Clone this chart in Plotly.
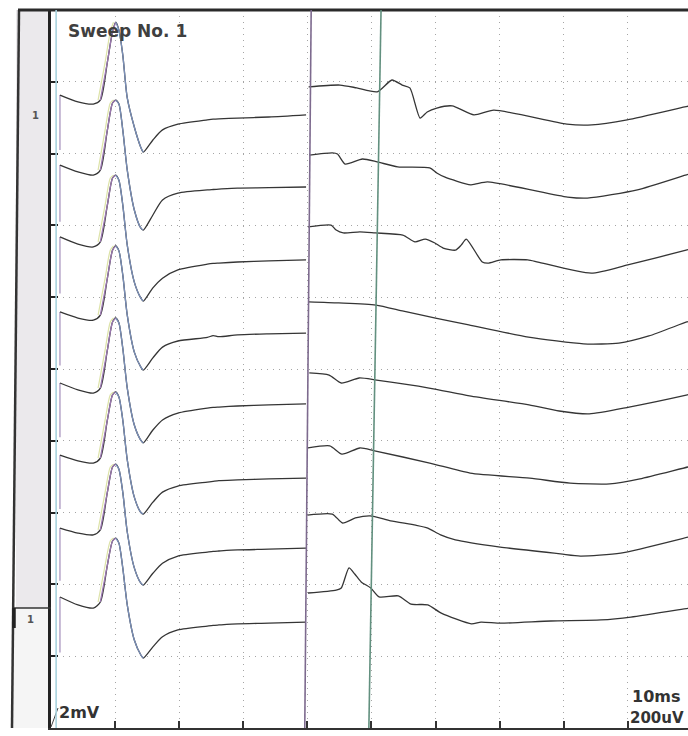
import plotly.graph_objects as go

# ---------------- data ----------------
# M-wave section (0-40 ms), 2 mV / division, values in mV relative to each sweep's grid line
t_m = [1.4, 4.2, 6.6, 7.7, 8.8, 9.6, 10.1, 10.6, 11.2, 11.9, 13.0, 14.0, 14.4,
       15.9, 17.4, 19.8, 24.4, 25.3, 26.2, 29.1, 34.0, 39.8]
m1 = [-0.37, -0.56, -0.62, -0.51, 0.55, 1.39, 1.66, 1.44, 0.75, -0.45, -1.26, -1.82, -1.96,
      -1.62, -1.34, -1.18, -1.06, -1.04, -1.03, -1.01, -0.98, -0.92]
m2 = [-0.32, -0.51, -0.60, -0.46, 0.66, 1.41, 1.49, 1.38, 0.66, -0.46, -1.57, -2.07, -2.13,
      -1.71, -1.29, -1.10, -1.01, -1.00, -0.99, -0.96, -0.95, -0.93]
m3 = [-0.32, -0.52, -0.60, -0.46, 0.57, 1.32, 1.40, 1.26, 0.57, -0.55, -1.58, -2.02, -2.11,
      -1.74, -1.47, -1.24, -1.08, -1.06, -1.05, -1.02, -0.99, -0.96]
m4 = [-0.41, -0.58, -0.64, -0.50, 0.53, 1.31, 1.43, 1.29, 0.62, -0.50, -1.53, -1.94, -2.03,
      -1.69, -1.39, -1.22, -1.12, -1.07, -1.10, -1.05, -1.02, -1.00]
m5 = [-0.39, -0.58, -0.67, -0.53, 0.53, 1.31, 1.42, 1.28, 0.58, -0.53, -1.56, -1.98, -2.06,
      -1.70, -1.42, -1.23, -1.09, -1.07, -1.06, -1.03, -1.00, -0.97]
m6 = [-0.40, -0.56, -0.62, -0.48, 0.58, 1.28, 1.36, 1.22, 0.58, -0.53, -1.57, -1.99, -2.04,
      -1.71, -1.43, -1.26, -1.15, -1.13, -1.11, -1.09, -1.06, -1.04]
m7 = [-0.43, -0.57, -0.62, -0.48, 0.57, 1.27, 1.35, 1.21, 0.57, -0.54, -1.54, -1.96, -2.02,
      -1.69, -1.41, -1.21, -1.10, -1.08, -1.07, -1.04, -1.02, -0.99]
m8 = [-0.35, -0.57, -0.66, -0.49, 0.54, 1.21, 1.29, 1.15, 0.46, -0.57, -1.55, -1.96, -2.05,
      -1.74, -1.46, -1.27, -1.16, -1.14, -1.13, -1.10, -1.08, -1.05]

# F-wave section (40-100 ms), 200 uV / division, values in uV relative to each sweep's grid line
f1_t = [40.2, 45.1, 47.7, 50.9, 53.2, 54.8, 56.0, 57.6, 58.7, 60.2, 62.6, 66.0, 69.1, 80.5, 84.4, 89.9, 98.9, 100.0]
f1_v = [-14, -9, -17, -28, 5, -9, -17, -101, -84, -73, -67, -92, -79, -118, -120, -106, -70, -66]
f2_t = [40.3, 43.9, 44.7, 45.9, 48.6, 50.9, 54.1, 59.1, 60.2, 61.4, 65.5, 68.1, 80.6, 83.7, 91.5, 99.0, 100.0]
f2_v = [-4, 2, -1, -29, -15, -23, -37, -40, -54, -65, -87, -79, -121, -124, -101, -60, -55]
f3_t = [40.1, 43.7, 44.5, 45.6, 48.2, 50.6, 54.9, 56.8, 58.4, 59.9, 61.2, 63.1, 64.0, 64.8, 67.3, 68.2,
        70.2, 74.4, 76.0, 84.3, 90.0, 99.1, 100.0]
f3_v = [-4, 1, -13, -21, -18, -21, -27, -46, -38, -49, -63, -69, -55, -38, -102, -105,
        -96, -96, -102, -133, -110, -69, -65]
f4_t = [40.2, 44.9, 50.7, 55.0, 60.0, 65.2, 74.5, 83.1, 88.6, 93.3, 99.2, 100.0]
f4_v = [-13, -16, -22, -39, -58, -77, -111, -130, -128, -108, -69, -65]
f5_t = [40.3, 43.4, 45.3, 48.1, 50.8, 59.0, 65.3, 74.6, 79.3, 84.0, 90.2, 99.3, 100.0]
f5_v = [-11, -17, -39, -25, -31, -53, -75, -100, -117, -125, -106, -72, -69]
f6_t = [40.1, 43.5, 45.4, 48.2, 50.5, 59.1, 65.4, 74.7, 81.0, 87.2, 91.9, 99.4, 100.0]
f6_v = [-20, -14, -37, -20, -28, -62, -90, -104, -118, -120, -106, -73, -71]
f7_t = [40.0, 43.9, 45.5, 47.5, 49.8, 53.0, 56.9, 58.8, 60.8, 63.1, 70.1, 79.5, 82.6, 88.9, 99.5, 100.0]
f7_v = [-7, -4, -29, -15, -9, -23, -35, -43, -62, -76, -96, -115, -121, -113, -68, -66]
f8_t = [40.1, 44.5, 45.3, 46.5, 47.4, 48.4, 49.9, 51.2, 54.2, 56.2, 58.8, 60.9, 65.6, 67.1, 70.2,
        78.0, 85.8, 90.5, 99.6, 100.0]
f8_v = [-24, -16, -10, 46, 29, 7, -10, -35, -32, -55, -57, -80, -110, -105, -108,
        -102, -99, -91, -66, -65]

m_vals = [m1, m2, m3, m4, m5, m6, m7, m8]
f_times = [f1_t, f2_t, f3_t, f4_t, f5_t, f6_t, f7_t, f8_t]
f_vals = [f1_v, f2_v, f3_v, f4_v, f5_v, f6_v, f7_v, f8_v]
baselines = [9, 8, 7, 6, 5, 4, 3, 2]      # grid line (division) of each sweep
m_scale = 2.0       # mV per division
f_scale = 200.0     # uV per division
artifact_mv = -1.9  # stimulus artifact depth, mV
cursor_top = [40.6, 51.5]
cursor_bot = [39.6, 49.6]
stim_t = 0.8

# ---------------- figure ----------------
W, H = 688, 736
PX0, PX1, PY0, PY1 = 51, 688, 10, 728


def px(x):
    return (x - PX0) / (PX1 - PX0)


def py(y):
    return (PY1 - y) / (PY1 - PY0)


fig = go.Figure()
trace_col = "#353535"

for k in range(8):
    b = baselines[k]
    ym = [b + v / m_scale for v in m_vals[k]]
    # stimulus artifact
    fig.add_trace(go.Scatter(x=[t_m[0], t_m[0]], y=[b + artifact_mv / m_scale, ym[0]], mode="lines",
                             line=dict(color="#a48fbb", width=1.2), hoverinfo="skip"))
    # M wave
    fig.add_trace(go.Scatter(x=t_m, y=ym, mode="lines",
                             line=dict(color=trace_col, width=1.3, shape="spline", smoothing=0.7),
                             hoverinfo="skip"))
    # coloured steep parts
    up = slice(3, 7)
    dn = slice(6, 13)
    fig.add_trace(go.Scatter(x=[t - 0.35 for t in t_m[up]], y=ym[up], mode="lines",
                             line=dict(color="#dde3a8", width=1.2, shape="spline", smoothing=0.7),
                             hoverinfo="skip"))
    fig.add_trace(go.Scatter(x=t_m[up], y=ym[up], mode="lines",
                             line=dict(color="#9b78b0", width=1.3, shape="spline", smoothing=0.7),
                             hoverinfo="skip"))
    fig.add_trace(go.Scatter(x=t_m[dn], y=ym[dn], mode="lines",
                             line=dict(color="#7a8fb8", width=1.3, shape="spline", smoothing=0.7),
                             hoverinfo="skip"))
    # F-wave section
    yf = [b + v / f_scale for v in f_vals[k]]
    fig.add_trace(go.Scatter(x=f_times[k], y=yf, mode="lines",
                             line=dict(color=trace_col, width=1.3, shape="spline", smoothing=0.6),
                             hoverinfo="skip"))

shapes = []
# left strips
shapes.append(dict(type="rect", xref="paper", yref="paper", x0=px(16), x1=px(PX0), y0=py(608), y1=py(10),
                   fillcolor="#ebe9ec", line=dict(width=0), layer="below"))
shapes.append(dict(type="rect", xref="paper", yref="paper", x0=px(12), x1=px(PX0), y0=py(728), y1=py(608),
                   fillcolor="#f5f5f5", line=dict(width=0), layer="below"))
shapes.append(dict(type="line", xref="paper", yref="paper", x0=px(19), x1=px(12), y0=py(10), y1=py(728),
                   line=dict(color="#333333", width=2.5)))
shapes.append(dict(type="line", xref="paper", yref="paper", x0=px(12), x1=px(PX0), y0=py(608), y1=py(608),
                   line=dict(color="#333333", width=1.5)))
shapes.append(dict(type="line", xref="paper", yref="paper", x0=px(14), x1=px(14), y0=py(608), y1=py(628),
                   line=dict(color="#222222", width=3.5)))
# top border
shapes.append(dict(type="line", xref="paper", yref="paper", x0=px(18), x1=1.0, y0=1.0, y1=1.0,
                   line=dict(color="#2a2a2a", width=3)))
# slash next to 2mV
shapes.append(dict(type="line", xref="paper", yref="paper", x0=px(51), x1=px(58), y0=py(727), y1=py(708),
                   line=dict(color="#444444", width=1)))
# stimulus cursor
shapes.append(dict(type="line", xref="x", yref="paper", x0=stim_t, x1=stim_t, y0=0, y1=1,
                   line=dict(color="#a9d3de", width=1.6)))
# latency cursors
cur_cols = ["#7d6a8e", "#62907f"]
for i in range(2):
    shapes.append(dict(type="line", xref="x", yref="paper", x0=cursor_top[i], x1=cursor_bot[i], y0=1, y1=0,
                       line=dict(color=cur_cols[i], width=1.6)))

font_b = "DejaVu Sans"
annotations = [
    dict(text="Sweep No. 1", x=px(66), y=py(31), xref="paper", yref="paper", xanchor="left", yanchor="middle",
         showarrow=False, font=dict(family=font_b, size=17, color="#3f3f3f", weight="bold")),
    dict(text="1", x=px(35), y=py(115), xref="paper", yref="paper", xanchor="center", yanchor="middle",
         showarrow=False, font=dict(family=font_b, size=10, color="#555555", weight="bold")),
    dict(text="1", x=px(30), y=py(619), xref="paper", yref="paper", xanchor="center", yanchor="middle",
         showarrow=False, font=dict(family=font_b, size=10, color="#555555", weight="bold")),
    dict(text="2mV", x=px(57), y=py(712), xref="paper", yref="paper", xanchor="left", yanchor="middle",
         showarrow=False, font=dict(family=font_b, size=16, color="#333333", weight="bold")),
    dict(text="10ms", x=px(630), y=py(696), xref="paper", yref="paper", xanchor="left", yanchor="middle",
         showarrow=False, font=dict(family=font_b, size=16, color="#333333", weight="bold")),
    dict(text="200uV", x=px(628), y=py(718), xref="paper", yref="paper", xanchor="left", yanchor="middle",
         showarrow=False, font=dict(family=font_b, size=15, color="#333333", weight="bold")),
]

grid_dash = "1px,5px"
fig.update_layout(
    width=W, height=H,
    margin=dict(l=PX0, r=W - PX1, t=PY0, b=H - PY1, pad=0),
    paper_bgcolor="#ffffff", plot_bgcolor="#ffffff",
    showlegend=False,
    shapes=shapes, annotations=annotations,
    xaxis=dict(range=[0, 99.4], dtick=10, tick0=0, showgrid=True, gridcolor="#a5a5a5", griddash=grid_dash,
               gridwidth=1, zeroline=False, showline=True, linecolor="#333333", linewidth=1.5,
               ticks="inside", ticklen=7, tickwidth=1.5, tickcolor="#333333", showticklabels=False,
               fixedrange=True),
    yaxis=dict(range=[0, 10], dtick=1, tick0=0, showgrid=True, gridcolor="#a5a5a5", griddash=grid_dash,
               gridwidth=1, zeroline=False, showline=True, linecolor="#222222", linewidth=3,
               ticks="inside", ticklen=7, tickwidth=1.5, tickcolor="#222222", showticklabels=False,
               fixedrange=True),
)

fig.write_html("out.html", config={"displayModeBar": False},
               post_script="document.body.style.margin='0';document.body.style.overflow='hidden';")
